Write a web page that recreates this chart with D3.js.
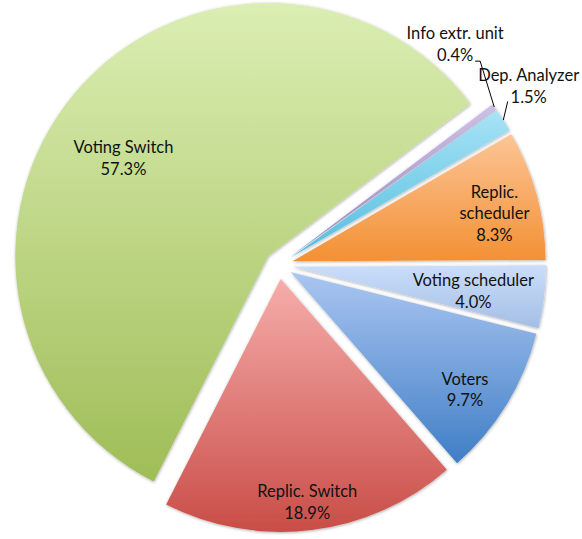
<!DOCTYPE html>
<html>
<head>
<meta charset="utf-8">
<script src="https://cdn.jsdelivr.net/npm/d3@7/dist/d3.min.js"></script>
<style>
  body { margin: 0; background: #fff; }
  svg text { font-family: Lato, "Open Sans", sans-serif; font-size: 16.5px; fill: #111; }
</style>
</head>
<body>
<div id="chart"></div>
<script>
// slice order, clockwise from the first slice angle
const names = ['Info extr. unit', 'Dep. Analyzer', 'Replic. scheduler', 'Voting scheduler', 'Voters', 'Replic. Switch', 'Voting Switch'];
const shares = [0.4, 1.5, 8.3, 4.0, 9.7, 18.9, 57.3];
const labelLines = [['Info extr. unit'], ['Dep. Analyzer'], ['Replic.', 'scheduler'], ['Voting scheduler'], ['Voters'], ['Replic. Switch'], ['Voting Switch']];

// gradient top / bottom per slice
const topColors = ['#cdc1e6', '#a8e3f6', '#fcc596', '#cadefb', '#abc6f1', '#f6adab', '#dbeeb3'];
const bottomColors = ['#9c88c6', '#53bede', '#f39034', '#a4bee4', '#3f7ec6', '#c94d47', '#9fbd57'];

// label layout: [radius fraction, angle tweak in deg]; outside labels handled below
const labelLayout = [null, null, [0.82, 2], [0.72, 1], [0.83, 2.5], [0.89, 0.3], [0.69, -6]];

const W = 582, H = 539;
const cx = 279, cy = 265;
const R = 253;
const explode = 14;
const startDeg = 53;
const rad = Math.PI / 180;

const svg = d3.select('#chart').append('svg').attr('width', W).attr('height', H);
const defs = svg.append('defs');

const shadow = defs.append('filter').attr('id', 'shd')
    .attr('x', '-10%').attr('y', '-10%').attr('width', '120%').attr('height', '120%');
shadow.append('feDropShadow').attr('dx', 0.5).attr('dy', 0.8).attr('stdDeviation', 1.6)
    .attr('flood-color', '#000').attr('flood-opacity', 0.35);

shares.forEach((v, i) => {
    const g = defs.append('linearGradient').attr('id', `grad${i}`)
        .attr('x1', 0).attr('y1', 0).attr('x2', 0).attr('y2', 1);
    g.append('stop').attr('offset', '0%').attr('stop-color', topColors[i]);
    g.append('stop').attr('offset', '100%').attr('stop-color', bottomColors[i]);
});

const pie = d3.pie().sort(null).value(d => d)
    .startAngle(startDeg * rad).endAngle(startDeg * rad + 2 * Math.PI);
const arcs = pie(shares);
const arc = d3.arc().innerRadius(0).outerRadius(R);

const dir = a => [Math.sin(a), -Math.cos(a)];
const mid = d => (d.startAngle + d.endAngle) / 2;
const apex = d => {
    const [ux, uy] = dir(mid(d));
    return [cx + explode * ux, cy + explode * uy];
};

const root = svg.append('g');

root.selectAll('path.slice')
    .data(arcs)
    .enter()
    .append('path')
    .attr('class', 'slice')
    .attr('d', arc)
    .attr('transform', d => `translate(${apex(d)})`)
    .attr('fill', (d, i) => `url(#grad${i})`)
    .attr('filter', 'url(#shd)');

// inside labels
arcs.forEach((d, i) => {
    const lay = labelLayout[i];
    if (!lay) return;
    const a = mid(d) + lay[1] * rad;
    const [ux, uy] = dir(a);
    const [ax, ay] = apex(d);
    const x = ax + ux * R * lay[0];
    const y = ay + uy * R * lay[0];
    const lines = labelLines[i].concat([d3.format('.1f')(shares[i]) + '%']);
    const lh = 21.5;
    const t = root.append('text').attr('text-anchor', 'middle');
    lines.forEach((s, k) => {
        t.append('tspan').attr('x', x)
            .attr('y', y + (k - (lines.length - 1) / 2) * lh + 5.5)
            .text(s);
    });
});

// outside labels with leader lines
const outside = [
    { i: 0, dist: 269, ang: 37.8, elbow: [[20, 17], [25, 17]] },
    { i: 1, dist: 293, ang: 54.3, elbow: [[-21, 15]] }
];
outside.forEach(o => {
    const d = arcs[o.i];
    const [ax, ay] = apex(d);
    const [lx, ly] = dir(o.ang * rad);
    const x = ax + lx * o.dist;
    const y = ay + ly * o.dist;
    const t = root.append('text').attr('text-anchor', 'middle');
    t.append('tspan').attr('x', x).attr('y', y - 5).text(labelLines[o.i][0]);
    t.append('tspan').attr('x', x).attr('y', y + 16.5).text(d3.format('.1f')(shares[o.i]) + '%');
    const [ux, uy] = dir(mid(d));
    const pts = o.elbow.map(e => [x + e[0], y + e[1]]);
    pts.push([ax + ux * R, ay + uy * R]);
    root.append('path')
        .attr('d', d3.line()(pts))
        .attr('fill', 'none')
        .attr('stroke', '#000')
        .attr('stroke-width', 1);
});
</script>
</body>
</html>
